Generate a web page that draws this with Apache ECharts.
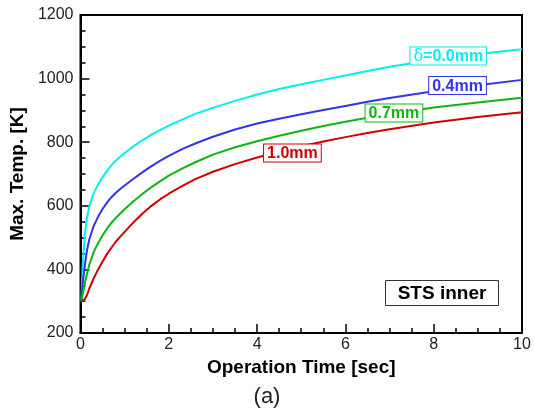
<!DOCTYPE html>
<html>
<head>
<meta charset="utf-8">
<script src="https://cdn.jsdelivr.net/npm/echarts@6/dist/echarts.min.js"></script>
<style>html,body{margin:0;padding:0;background:#fff}#c{width:534px;height:415px}</style>
</head>
<body>
<div id="c"></div>
<script>
const times  = [0.02, 0.05, 0.1, 0.15, 0.2, 0.3, 0.4, 0.5, 0.6, 0.7, 0.8, 0.9, 1.0, 1.2, 1.4, 1.6, 1.8, 2.0, 2.3, 2.6, 3.0, 3.5, 4.0, 4.5, 5.0, 5.5, 6.0, 6.5, 7.0, 8.0, 9.0, 10];
const temp00 = [300, 412, 512, 565, 598, 640, 668, 690, 710, 727, 742, 754, 766, 787, 806, 823, 838, 852, 871, 889, 908, 930, 950, 967, 982, 996, 1010, 1024, 1037, 1059, 1077, 1092];
const temp04 = [300, 355, 415, 462, 495, 537, 566, 590, 610, 627, 641, 653, 664, 685, 705, 724, 741, 757, 778, 796, 817, 840, 859, 874, 888, 901, 914, 927, 939, 960, 979, 996];
const temp07 = [300, 322, 357, 388, 415, 455, 483, 507, 528, 546, 562, 576, 589, 614, 637, 658, 677, 695, 717, 737, 761, 784, 803, 820, 836, 851, 864, 877, 889, 909, 925, 940];
const temp10 = [300, 301, 307, 320, 340, 372, 400, 425, 448, 468, 487, 503, 518, 548, 575, 599, 620, 638, 662, 684, 707, 731, 752, 770, 787, 802, 816, 829, 841, 862, 879, 894];
const seriesNames = ['δ=0.0mm', '0.4mm', '0.7mm', '1.0mm'];
const labelAnchors = [[8.33, 1071], [8.54, 978], [7.10, 892], [4.80, 766]];
const colors = ['#00f0f0', '#3333ee', '#11b511', '#d00000'];
const allTemps = [temp00, temp04, temp07, temp10];

const chart = echarts.init(document.getElementById('c'));
const font = 'Liberation Sans, Arial, sans-serif';
const series = allTemps.map((vals, i) => ({
  type: 'line',
  name: seriesNames[i],
  data: times.map((t, j) => [t, vals[j]]),
  smooth: false,
  showSymbol: false,
  lineStyle: { color: colors[i], width: 2, join: 'round' },
  itemStyle: { color: colors[i] },
  markPoint: {
    symbol: 'rect',
    symbolSize: 1,
    itemStyle: { color: 'rgba(0,0,0,0)' },
    data: [{ coord: labelAnchors[i] }],
    label: {
      show: true,
      position: 'inside',
      formatter: i === 0 ? '{d|δ}=0.0mm' : seriesNames[i],
      backgroundColor: '#fff',
      borderColor: colors[i],
      borderWidth: 1,
      padding: [1, 3, 0, 3],
      color: colors[i],
      fontFamily: font,
      fontWeight: 'bold',
      fontSize: 16,
      rich: { d: { fontWeight: 'normal', fontSize: 16, color: colors[i], fontFamily: 'DejaVu Serif, serif' } }
    }
  }
}));

chart.setOption({
  animation: false,
  grid: { left: 79, right: 12, top: 15, bottom: 82, show: true, borderColor: '#000', borderWidth: 2 },
  xAxis: {
    type: 'value', min: 0, max: 10, interval: 2,
    name: 'Operation Time [sec]', nameLocation: 'middle', nameGap: 21,
    nameTextStyle: { fontFamily: font, fontWeight: 'bold', fontSize: 19, color: '#000' },
    axisLine: { lineStyle: { color: '#000', width: 2 } },
    axisTick: { inside: true, length: 9, lineStyle: { color: '#000', width: 1.5 } },
    minorTick: { show: true, splitNumber: 4, length: 5, lineStyle: { color: '#000', width: 1.5 } },
    splitLine: { show: false },
    axisLabel: { fontFamily: font, fontSize: 16, color: '#222', margin: 4, formatter: v => String(v) }
  },
  yAxis: {
    type: 'value', min: 200, max: 1200, interval: 200,
    name: 'Max. Temp. [K]', nameLocation: 'middle', nameGap: 47,
    nameTextStyle: { fontFamily: font, fontWeight: 'bold', fontSize: 19, color: '#000' },
    axisLine: { lineStyle: { color: '#000', width: 2 } },
    axisTick: { inside: true, length: 9, lineStyle: { color: '#000', width: 1.5 } },
    minorTick: { show: true, splitNumber: 4, length: 5, lineStyle: { color: '#000', width: 1.5 } },
    splitLine: { show: false },
    axisLabel: { fontFamily: font, fontSize: 16, color: '#222', margin: 7, formatter: v => String(v) }
  },
  graphic: [
    {
      type: 'group', left: 385, top: 280,
      children: [
        { type: 'rect', shape: { x: 0, y: 0, width: 113, height: 25 }, style: { fill: '#fff', stroke: '#333', lineWidth: 1 } },
        { type: 'text', style: { x: 56.5, y: 13, text: 'STS inner', fontFamily: font, fontWeight: 'bold', fontSize: 19, fill: '#000', textAlign: 'center', textVerticalAlign: 'middle' } }
      ]
    },
    { type: 'text', left: 'center', top: 386, style: { text: '(a)', fontFamily: font, fontSize: 22, fill: '#222' } }
  ],
  series: series
});
</script>
</body>
</html>
